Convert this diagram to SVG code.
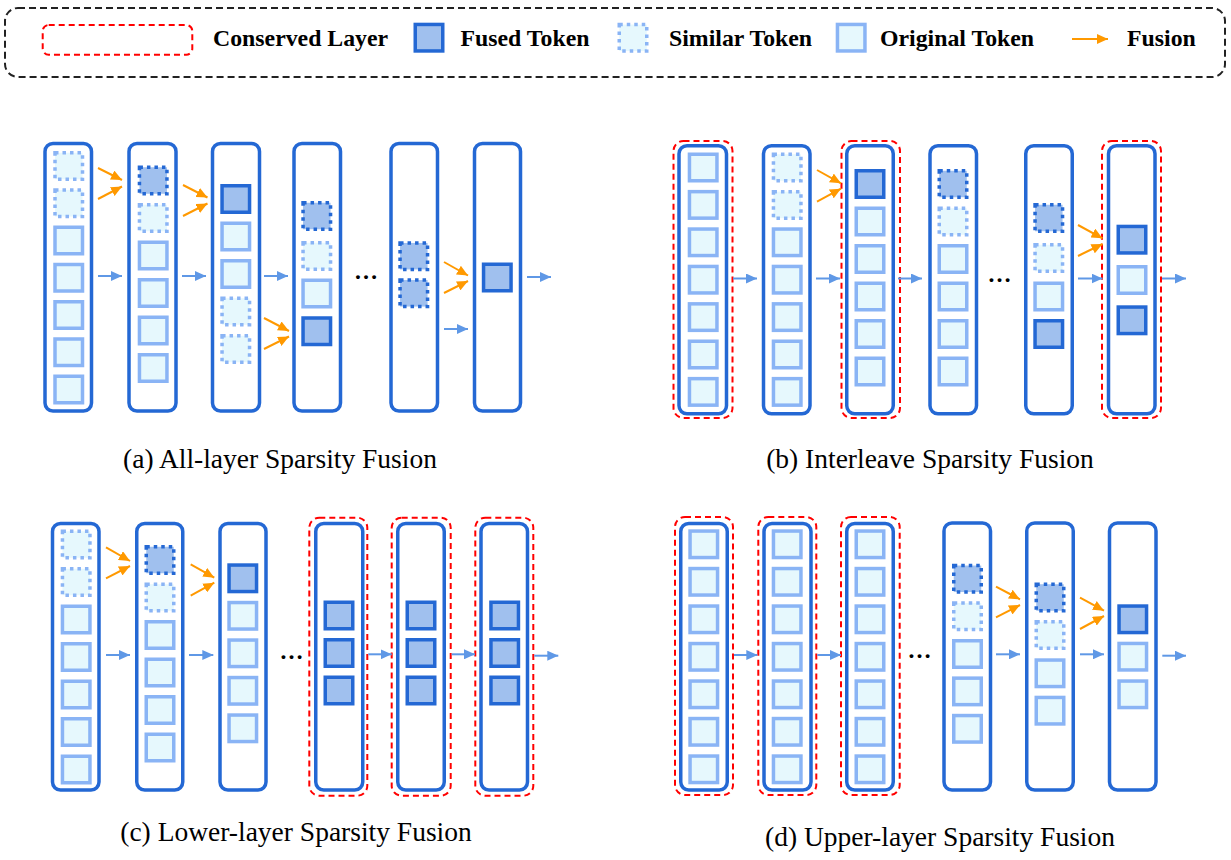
<svg xmlns="http://www.w3.org/2000/svg" width="1231" height="860" viewBox="0 0 1231 860">
<defs>
<marker id="hb" viewBox="0 0 11 10" refX="11" refY="5" markerWidth="11" markerHeight="10" markerUnits="userSpaceOnUse" orient="auto"><path d="M0,0 L11,5 L0,10 z" fill="#5f98e6"/></marker>
<marker id="ho" viewBox="0 0 11 10" refX="11" refY="5" markerWidth="11" markerHeight="10" markerUnits="userSpaceOnUse" orient="auto"><path d="M0,0 L11,5 L0,10 z" fill="#ff9900"/></marker>
</defs>
<style>
.lay{fill:#fff;stroke:#2468d4;stroke-width:3.5}
.cons{fill:none;stroke:#ff0000;stroke-width:2;stroke-dasharray:6 4}
.t{width:27.5px;height:26.5px;stroke-width:3.5}
.tf{fill:#a0c0ee;stroke:#2468d4}
.tdf{fill:#a0c0ee;stroke:#2468d4;stroke-dasharray:3.5 4}
.to{fill:#e6f8fd;stroke:#8ab4f5}
.ts{fill:#e6f8fd;stroke:#8ab4f5;stroke-dasharray:3.5 4}
.ab{stroke:#5f98e6;stroke-width:2;fill:none;marker-end:url(#hb)}
.ao{stroke:#ff9900;stroke-width:2;fill:none;marker-end:url(#ho)}
.lg{font-family:"Liberation Serif","Times New Roman",serif;font-weight:bold;font-size:23.8px;fill:#000}
.cap{font-family:"Liberation Serif","Times New Roman",serif;font-size:27.5px;fill:#000;text-anchor:middle}
.dots{font-family:"Liberation Serif","Times New Roman",serif;font-weight:bold;font-size:24px;fill:#000;text-anchor:middle}
</style>
<rect width="1231" height="860" fill="#fff"/>

<g id="legend">
<rect x="5" y="8" width="1220" height="69" rx="13" fill="none" stroke="#222" stroke-width="2" stroke-dasharray="7 4"/>
<rect x="42.7" y="25" width="149.6" height="29.7" rx="6" class="cons"/>
<text x="213" y="46" class="lg">Conserved Layer</text>
<rect x="415.25" y="24.45" class="t tf" width="27.5" height="26.5"/>
<text x="460.5" y="46" class="lg">Fused Token</text>
<rect x="619.25" y="24.55" class="t ts" width="27.5" height="26.5"/>
<text x="669" y="46" class="lg">Similar Token</text>
<rect x="837.45" y="24.45" class="t to" width="27.5" height="26.5"/>
<text x="880" y="46" class="lg">Original Token</text>
<line x1="1072" y1="39" x2="1108" y2="39" class="ao"/>
<text x="1127" y="46" class="lg">Fusion</text>
</g>

<!-- Panel (a) -->
<g id="a-layer1">
<rect x="45" y="143.5" width="46.5" height="267.5" rx="8" class="lay"/>
<rect x="55" y="152.75" class="t ts" width="27.5" height="26.5"/>
<rect x="55" y="190" class="t ts" width="27.5" height="26.5"/>
<rect x="55" y="227.25" class="t to" width="27.5" height="26.5"/>
<rect x="55" y="264.5" class="t to" width="27.5" height="26.5"/>
<rect x="55" y="301.75" class="t to" width="27.5" height="26.5"/>
<rect x="55" y="339" class="t to" width="27.5" height="26.5"/>
<rect x="55" y="376.25" class="t to" width="27.5" height="26.5"/>
</g>
<g id="a-layer2">
<rect x="129" y="143.5" width="47" height="267.5" rx="8" class="lay"/>
<rect x="139.45" y="167.25" class="t tdf" width="27.5" height="26.5"/>
<rect x="139.45" y="204.75" class="t ts" width="27.5" height="26.5"/>
<rect x="139.45" y="242.25" class="t to" width="27.5" height="26.5"/>
<rect x="139.45" y="279.75" class="t to" width="27.5" height="26.5"/>
<rect x="139.45" y="317.25" class="t to" width="27.5" height="26.5"/>
<rect x="139.45" y="354.75" class="t to" width="27.5" height="26.5"/>
</g>
<g id="a-layer3">
<rect x="212.5" y="143.5" width="47" height="267.5" rx="8" class="lay"/>
<rect x="222.05" y="185.75" class="t tf" width="27.5" height="26.5"/>
<rect x="222.05" y="223.25" class="t to" width="27.5" height="26.5"/>
<rect x="222.05" y="260.75" class="t to" width="27.5" height="26.5"/>
<rect x="222.05" y="298.25" class="t ts" width="27.5" height="26.5"/>
<rect x="222.05" y="335.75" class="t ts" width="27.5" height="26.5"/>
</g>
<g id="a-layer4">
<rect x="294" y="143.5" width="46.5" height="267.5" rx="8" class="lay"/>
<rect x="303.05" y="202.75" class="t tdf" width="27.5" height="26.5"/>
<rect x="303.05" y="242.75" class="t ts" width="27.5" height="26.5"/>
<rect x="303.05" y="280.25" class="t to" width="27.5" height="26.5"/>
<rect x="303.05" y="318" class="t tf" width="27.5" height="26.5"/>
</g>
<text x="366" y="279" class="dots">…</text>
<g id="a-layer5">
<rect x="391" y="143.5" width="46.5" height="267.5" rx="8" class="lay"/>
<rect x="400.05" y="242.95" class="t tdf" width="27.5" height="26.5"/>
<rect x="400.05" y="280.05" class="t tdf" width="27.5" height="26.5"/>
</g>
<g id="a-layer6">
<rect x="474.5" y="143.5" width="46" height="267.5" rx="8" class="lay"/>
<rect x="483.55" y="264.25" class="t tf" width="27.5" height="26.5"/>
</g>
<text x="280" y="468" class="cap">(a) All-layer Sparsity Fusion</text>

<!-- Panel (b) -->
<g id="b-layer1">
<rect x="673.5" y="141" width="59" height="277" rx="10" class="cons"/>
<rect x="679" y="145.75" width="47.5" height="268" rx="8" class="lay"/>
<rect x="689.45" y="154.25" class="t to" width="27.5" height="26.5"/>
<rect x="689.45" y="191.65" class="t to" width="27.5" height="26.5"/>
<rect x="689.45" y="229.05" class="t to" width="27.5" height="26.5"/>
<rect x="689.45" y="266.45" class="t to" width="27.5" height="26.5"/>
<rect x="689.45" y="303.85" class="t to" width="27.5" height="26.5"/>
<rect x="689.45" y="341.25" class="t to" width="27.5" height="26.5"/>
<rect x="689.45" y="378.65" class="t to" width="27.5" height="26.5"/>
</g>
<g id="b-layer2">
<rect x="763.5" y="145.75" width="46.5" height="268" rx="8" class="lay"/>
<rect x="773.45" y="154.25" class="t ts" width="27.5" height="26.5"/>
<rect x="773.45" y="191.65" class="t ts" width="27.5" height="26.5"/>
<rect x="773.45" y="229.05" class="t to" width="27.5" height="26.5"/>
<rect x="773.45" y="266.45" class="t to" width="27.5" height="26.5"/>
<rect x="773.45" y="303.85" class="t to" width="27.5" height="26.5"/>
<rect x="773.45" y="341.25" class="t to" width="27.5" height="26.5"/>
<rect x="773.45" y="378.65" class="t to" width="27.5" height="26.5"/>
</g>
<g id="b-layer3">
<rect x="841.5" y="141" width="58.5" height="277" rx="10" class="cons"/>
<rect x="846.75" y="145.75" width="46.5" height="268" rx="8" class="lay"/>
<rect x="856.25" y="170.75" class="t tf" width="27.5" height="26.5"/>
<rect x="856.25" y="208.25" class="t to" width="27.5" height="26.5"/>
<rect x="856.25" y="245.75" class="t to" width="27.5" height="26.5"/>
<rect x="856.25" y="283.25" class="t to" width="27.5" height="26.5"/>
<rect x="856.25" y="320.75" class="t to" width="27.5" height="26.5"/>
<rect x="856.25" y="358.25" class="t to" width="27.5" height="26.5"/>
</g>
<g id="b-layer4">
<rect x="930" y="145.75" width="46.5" height="268" rx="8" class="lay"/>
<rect x="939.25" y="170.75" class="t tdf" width="27.5" height="26.5"/>
<rect x="939.25" y="208.25" class="t ts" width="27.5" height="26.5"/>
<rect x="939.25" y="245.75" class="t to" width="27.5" height="26.5"/>
<rect x="939.25" y="283.25" class="t to" width="27.5" height="26.5"/>
<rect x="939.25" y="320.75" class="t to" width="27.5" height="26.5"/>
<rect x="939.25" y="358.25" class="t to" width="27.5" height="26.5"/>
</g>
<text x="999.5" y="282" class="dots">…</text>
<g id="b-layer5">
<rect x="1025.75" y="145.75" width="46.5" height="268" rx="8" class="lay"/>
<rect x="1035.05" y="204.75" class="t tdf" width="27.5" height="26.5"/>
<rect x="1035.05" y="244.75" class="t ts" width="27.5" height="26.5"/>
<rect x="1035.05" y="283.25" class="t to" width="27.5" height="26.5"/>
<rect x="1035.05" y="320.75" class="t tf" width="27.5" height="26.5"/>
</g>
<g id="b-layer6">
<rect x="1102" y="141" width="59" height="277" rx="10" class="cons"/>
<rect x="1108.5" y="145.75" width="46.5" height="268" rx="8" class="lay"/>
<rect x="1118.25" y="226.45" class="t tf" width="27.5" height="26.5"/>
<rect x="1118.25" y="266.75" class="t to" width="27.5" height="26.5"/>
<rect x="1118.25" y="307.05" class="t tf" width="27.5" height="26.5"/>
</g>
<text x="930" y="468" class="cap">(b) Interleave Sparsity Fusion</text>

<!-- Panel (c) -->
<g id="c-layer1">
<rect x="52.5" y="523.5" width="46.5" height="266.5" rx="8" class="lay"/>
<rect x="62.45" y="531.25" class="t ts" width="27.5" height="26.5"/>
<rect x="62.45" y="568.75" class="t ts" width="27.5" height="26.5"/>
<rect x="62.45" y="606.25" class="t to" width="27.5" height="26.5"/>
<rect x="62.45" y="643.75" class="t to" width="27.5" height="26.5"/>
<rect x="62.45" y="681.25" class="t to" width="27.5" height="26.5"/>
<rect x="62.45" y="718.75" class="t to" width="27.5" height="26.5"/>
<rect x="62.45" y="756.25" class="t to" width="27.5" height="26.5"/>
</g>
<g id="c-layer2">
<rect x="136.75" y="523.5" width="46" height="266.5" rx="8" class="lay"/>
<rect x="146.25" y="546.75" class="t tdf" width="27.5" height="26.5"/>
<rect x="146.25" y="584.25" class="t ts" width="27.5" height="26.5"/>
<rect x="146.25" y="621.75" class="t to" width="27.5" height="26.5"/>
<rect x="146.25" y="659.25" class="t to" width="27.5" height="26.5"/>
<rect x="146.25" y="696.75" class="t to" width="27.5" height="26.5"/>
<rect x="146.25" y="734.25" class="t to" width="27.5" height="26.5"/>
</g>
<g id="c-layer3">
<rect x="220" y="523.5" width="46" height="266.5" rx="8" class="lay"/>
<rect x="229.05" y="565.05" class="t tf" width="27.5" height="26.5"/>
<rect x="229.05" y="602.55" class="t to" width="27.5" height="26.5"/>
<rect x="229.05" y="640.05" class="t to" width="27.5" height="26.5"/>
<rect x="229.05" y="677.55" class="t to" width="27.5" height="26.5"/>
<rect x="229.05" y="715.05" class="t to" width="27.5" height="26.5"/>
</g>
<text x="291.5" y="659" class="dots">…</text>
<g id="c-layer4">
<rect x="309.3" y="517.7" width="58" height="278" rx="10" class="cons"/>
<rect x="315.75" y="523.5" width="47" height="266.5" rx="8" class="lay"/>
<rect x="325.25" y="602.25" class="t tf" width="27.5" height="26.5"/>
<rect x="325.25" y="639.75" class="t tf" width="27.5" height="26.5"/>
<rect x="325.25" y="677.25" class="t tf" width="27.5" height="26.5"/>
</g>
<g id="c-layer5">
<rect x="391.7" y="517.7" width="59" height="278" rx="10" class="cons"/>
<rect x="397.75" y="523.5" width="46.5" height="266.5" rx="8" class="lay"/>
<rect x="407.25" y="602.25" class="t tf" width="27.5" height="26.5"/>
<rect x="407.25" y="639.75" class="t tf" width="27.5" height="26.5"/>
<rect x="407.25" y="677.25" class="t tf" width="27.5" height="26.5"/>
</g>
<g id="c-layer6">
<rect x="475.3" y="517.7" width="58" height="278" rx="10" class="cons"/>
<rect x="481" y="523.5" width="46.5" height="266.5" rx="8" class="lay"/>
<rect x="490.95" y="602.25" class="t tf" width="27.5" height="26.5"/>
<rect x="490.95" y="639.75" class="t tf" width="27.5" height="26.5"/>
<rect x="490.95" y="677.25" class="t tf" width="27.5" height="26.5"/>
</g>
<text x="296" y="841" class="cap">(c) Lower-layer Sparsity Fusion</text>

<!-- Panel (d) -->
<g id="d-layer1">
<rect x="675" y="517" width="58" height="278" rx="10" class="cons"/>
<rect x="680.75" y="523.5" width="46.5" height="266.5" rx="8" class="lay"/>
<rect x="690.05" y="531.05" class="t to" width="27.5" height="26.5"/>
<rect x="690.05" y="568.55" class="t to" width="27.5" height="26.5"/>
<rect x="690.05" y="606.05" class="t to" width="27.5" height="26.5"/>
<rect x="690.05" y="643.55" class="t to" width="27.5" height="26.5"/>
<rect x="690.05" y="681.05" class="t to" width="27.5" height="26.5"/>
<rect x="690.05" y="718.55" class="t to" width="27.5" height="26.5"/>
<rect x="690.05" y="756.05" class="t to" width="27.5" height="26.5"/>
</g>
<g id="d-layer2">
<rect x="758.3" y="517" width="58" height="278" rx="10" class="cons"/>
<rect x="764" y="523.5" width="47" height="266.5" rx="8" class="lay"/>
<rect x="773.45" y="531.05" class="t to" width="27.5" height="26.5"/>
<rect x="773.45" y="568.55" class="t to" width="27.5" height="26.5"/>
<rect x="773.45" y="606.05" class="t to" width="27.5" height="26.5"/>
<rect x="773.45" y="643.55" class="t to" width="27.5" height="26.5"/>
<rect x="773.45" y="681.05" class="t to" width="27.5" height="26.5"/>
<rect x="773.45" y="718.55" class="t to" width="27.5" height="26.5"/>
<rect x="773.45" y="756.05" class="t to" width="27.5" height="26.5"/>
</g>
<g id="d-layer3">
<rect x="841" y="517" width="58.7" height="278" rx="10" class="cons"/>
<rect x="846.75" y="523.5" width="46.5" height="266.5" rx="8" class="lay"/>
<rect x="856.25" y="531.05" class="t to" width="27.5" height="26.5"/>
<rect x="856.25" y="568.55" class="t to" width="27.5" height="26.5"/>
<rect x="856.25" y="606.05" class="t to" width="27.5" height="26.5"/>
<rect x="856.25" y="643.55" class="t to" width="27.5" height="26.5"/>
<rect x="856.25" y="681.05" class="t to" width="27.5" height="26.5"/>
<rect x="856.25" y="718.55" class="t to" width="27.5" height="26.5"/>
<rect x="856.25" y="756.05" class="t to" width="27.5" height="26.5"/>
</g>
<text x="919.5" y="658" class="dots">…</text>
<g id="d-layer4">
<rect x="944" y="523" width="46.5" height="267" rx="8" class="lay"/>
<rect x="953.75" y="565.55" class="t tdf" width="27.5" height="26.5"/>
<rect x="953.75" y="602.95" class="t ts" width="27.5" height="26.5"/>
<rect x="953.75" y="640.75" class="t to" width="27.5" height="26.5"/>
<rect x="953.75" y="678.15" class="t to" width="27.5" height="26.5"/>
<rect x="953.75" y="715.55" class="t to" width="27.5" height="26.5"/>
</g>
<g id="d-layer5">
<rect x="1026.75" y="523" width="46.5" height="267" rx="8" class="lay"/>
<rect x="1036.25" y="584.25" class="t tdf" width="27.5" height="26.5"/>
<rect x="1036.25" y="621.75" class="t ts" width="27.5" height="26.5"/>
<rect x="1036.25" y="660.05" class="t to" width="27.5" height="26.5"/>
<rect x="1036.25" y="697.45" class="t to" width="27.5" height="26.5"/>
</g>
<g id="d-layer6">
<rect x="1109.5" y="523" width="46.5" height="267" rx="8" class="lay"/>
<rect x="1119.05" y="606.05" class="t tf" width="27.5" height="26.5"/>
<rect x="1119.05" y="643.45" class="t to" width="27.5" height="26.5"/>
<rect x="1119.05" y="681.05" class="t to" width="27.5" height="26.5"/>
</g>
<text x="940" y="846" class="cap">(d) Upper-layer Sparsity Fusion</text>

<g id="connectors">
<!-- (a) -->
<line x1="98" y1="276" x2="122" y2="276" class="ab"/>
<line x1="182" y1="276" x2="206" y2="276" class="ab"/>
<line x1="264" y1="276" x2="288" y2="276" class="ab"/>
<line x1="444" y1="329" x2="468" y2="329" class="ab"/>
<line x1="527" y1="277" x2="551" y2="277" class="ab"/>
<line x1="98" y1="168" x2="122" y2="180" class="ao"/>
<line x1="98" y1="199" x2="122" y2="186.5" class="ao"/>
<line x1="183" y1="185" x2="207.5" y2="197.5" class="ao"/>
<line x1="183" y1="216" x2="207.5" y2="203.5" class="ao"/>
<line x1="264" y1="318" x2="289" y2="331" class="ao"/>
<line x1="264" y1="349" x2="289" y2="336.5" class="ao"/>
<line x1="444" y1="262" x2="468" y2="275.5" class="ao"/>
<line x1="444" y1="293" x2="468" y2="281" class="ao"/>
<!-- (b) -->
<line x1="733" y1="278.5" x2="757" y2="278.5" class="ab"/>
<line x1="816" y1="278.5" x2="840" y2="278.5" class="ab"/>
<line x1="898" y1="278.5" x2="922" y2="278.5" class="ab"/>
<line x1="1078" y1="278.5" x2="1102.5" y2="278.5" class="ab"/>
<line x1="1162" y1="278.5" x2="1186" y2="278.5" class="ab"/>
<line x1="817" y1="170" x2="841" y2="183.3" class="ao"/>
<line x1="817" y1="201.7" x2="841" y2="188.7" class="ao"/>
<line x1="1078" y1="225" x2="1102.5" y2="238.3" class="ao"/>
<line x1="1078" y1="256" x2="1102.5" y2="244" class="ao"/>
<!-- (c) -->
<line x1="106" y1="655" x2="130" y2="655" class="ab"/>
<line x1="189" y1="655" x2="213.3" y2="655" class="ab"/>
<line x1="368.3" y1="654.3" x2="391.7" y2="654.3" class="ab"/>
<line x1="451.7" y1="654.3" x2="475" y2="654.3" class="ab"/>
<line x1="534.3" y1="655.7" x2="558.3" y2="655.7" class="ab"/>
<line x1="106" y1="547.3" x2="130" y2="561" class="ao"/>
<line x1="106" y1="578.3" x2="130" y2="566" class="ao"/>
<line x1="190.7" y1="564.3" x2="214.3" y2="577.7" class="ao"/>
<line x1="190.7" y1="595.7" x2="214.3" y2="582.7" class="ao"/>
<!-- (d) -->
<line x1="734" y1="655" x2="757.3" y2="655" class="ab"/>
<line x1="817.3" y1="655" x2="841" y2="655" class="ab"/>
<line x1="996" y1="654.3" x2="1020" y2="654.3" class="ab"/>
<line x1="1080" y1="654.3" x2="1104" y2="654.3" class="ab"/>
<line x1="1162.3" y1="655.7" x2="1186" y2="655.7" class="ab"/>
<line x1="996" y1="586.7" x2="1020" y2="599.3" class="ao"/>
<line x1="996" y1="617.3" x2="1020" y2="605" class="ao"/>
<line x1="1080" y1="597.7" x2="1104" y2="610.7" class="ao"/>
<line x1="1080" y1="629" x2="1104" y2="616" class="ao"/>
</g>
</svg>
